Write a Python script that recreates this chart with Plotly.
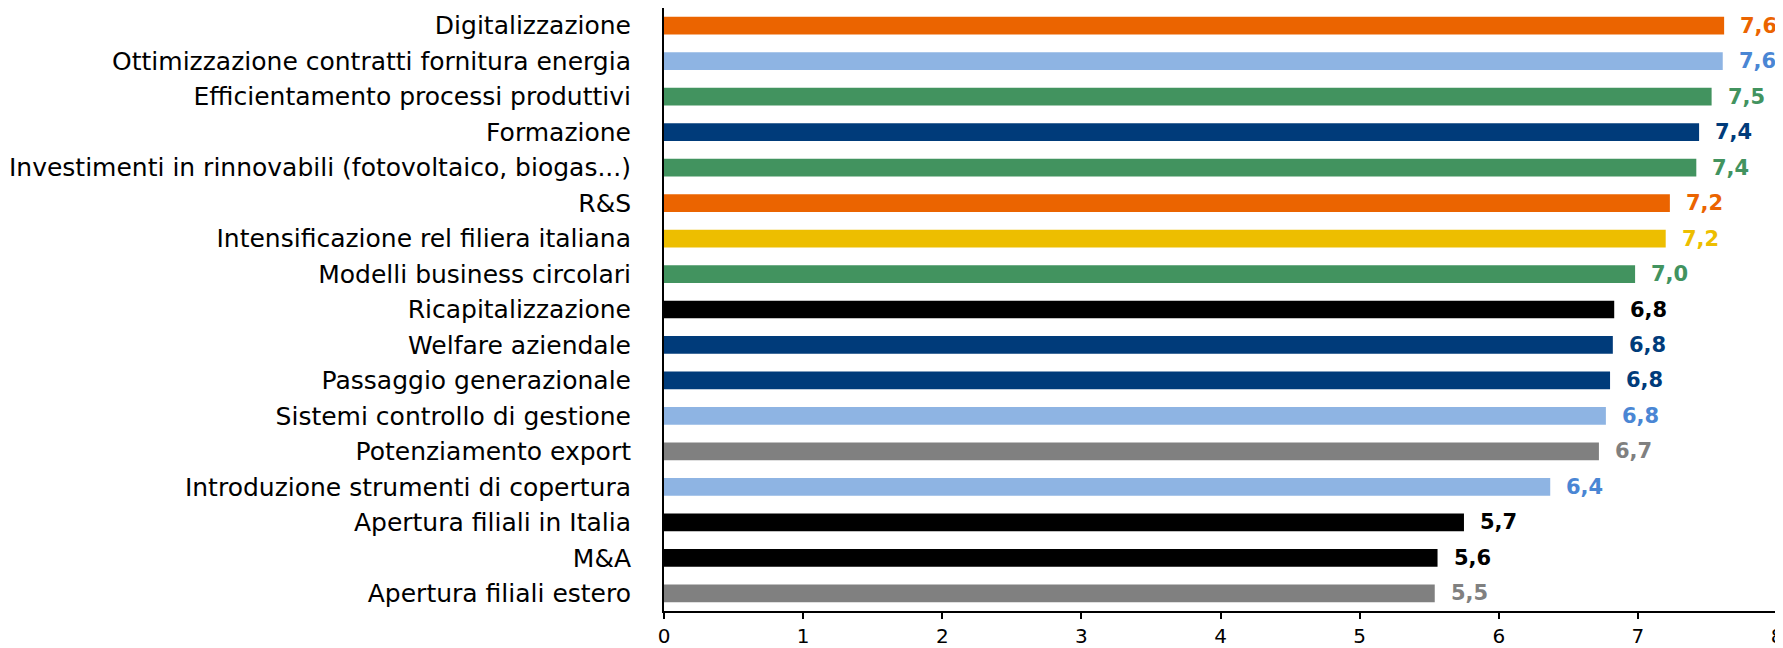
import plotly.graph_objects as go

# Data (top to bottom)
categories = [
    "Digitalizzazione",
    "Ottimizzazione contratti fornitura energia",
    "Efficientamento processi produttivi",
    "Formazione",
    "Investimenti in rinnovabili (fotovoltaico, biogas...)",
    "R&S",
    "Intensificazione rel filiera italiana",
    "Modelli business circolari",
    "Ricapitalizzazione",
    "Welfare aziendale",
    "Passaggio generazionale",
    "Sistemi controllo di gestione",
    "Potenziamento export",
    "Introduzione strumenti di copertura",
    "Apertura filiali in Italia",
    "M&A",
    "Apertura filiali estero",
]
values = [7.62, 7.61, 7.53, 7.44, 7.42, 7.23, 7.20, 6.98, 6.83, 6.82, 6.80, 6.77, 6.72, 6.37, 5.75, 5.56, 5.54]
value_labels = ["7,6", "7,6", "7,5", "7,4", "7,4", "7,2", "7,2", "7,0", "6,8", "6,8", "6,8", "6,8", "6,7", "6,4", "5,7", "5,6", "5,5"]
groups = ["orange", "lightblue", "green", "navy", "green", "orange", "yellow", "green",
          "black", "navy", "navy", "lightblue", "grey", "lightblue", "black", "black", "grey"]
x_ticks = [0, 1, 2, 3, 4, 5, 6, 7, 8]

bar_colors = {
    "orange": "#EB6400", "lightblue": "#8EB4E3", "green": "#42935F", "navy": "#003B7A",
    "yellow": "#EDBE00", "black": "#000000", "grey": "#808080",
}
text_colors = {
    "orange": "#EB6400", "lightblue": "#4A86D4", "green": "#42935F", "navy": "#003B7A",
    "yellow": "#EDBE00", "black": "#000000", "grey": "#808080",
}

FONT = "Century Gothic, DejaVu Sans, sans-serif"

fig = go.Figure()

fig.add_trace(go.Bar(
    x=values,
    y=categories,
    orientation="h",
    marker_color=[bar_colors[g] for g in groups],
    marker_line_width=0,
    hoverinfo="skip",
))

# Value labels just right of each bar
for cat, val, lab, g in zip(categories, values, value_labels, groups):
    fig.add_annotation(
        x=val, y=cat, text="<b>%s</b>" % lab,
        xanchor="left", yanchor="middle", xshift=14, showarrow=False,
        font=dict(family=FONT, size=21, color=text_colors[g]),
    )

# page body has an 8px margin, so the figure is shrunk by that much
fig.update_layout(
    width=1775,
    height=640,
    margin=dict(l=656, r=6, t=0, b=37),
    paper_bgcolor="white",
    plot_bgcolor="white",
    bargap=0.5,
    showlegend=False,
    font=dict(family=FONT, color="black"),
)

fig.update_xaxes(
    range=[0, 8],
    tickvals=x_ticks,
    ticklabeloverflow="allow",
    automargin=False,
    showgrid=False,
    zeroline=False,
    showline=True,
    linecolor="black",
    linewidth=2,
    ticks="outside",
    ticklen=6,
    tickwidth=2,
    tickcolor="black",
    ticklabelstandoff=0,
    tickfont=dict(family=FONT, size=20, color="black"),
)

fig.update_yaxes(
    autorange="reversed",
    automargin=False,
    showgrid=False,
    showline=True,
    linecolor="black",
    linewidth=2,
    ticks="",
    ticklabelstandoff=26,
    tickfont=dict(family=FONT, size=25, color="black"),
)

fig.write_html("out.html")
